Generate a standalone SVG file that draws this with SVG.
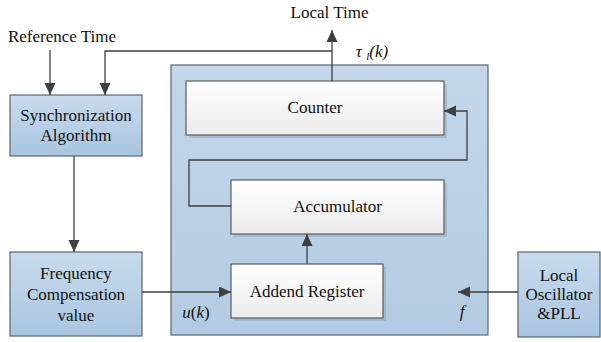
<svg xmlns="http://www.w3.org/2000/svg" width="601" height="342" viewBox="0 0 601 342" font-family="'Liberation Serif', 'DejaVu Serif', 'Times New Roman', serif">
<style>
  text { font-family: "Liberation Serif", "DejaVu Serif", "Times New Roman", serif; font-size: 17px; fill: #111; text-anchor: middle; }
  .it { font-style: italic; }
  .blue { fill: url(#gBlue); stroke: #5a6670; stroke-width: 1.2; }
  .cont { fill: url(#gCont); stroke: #5a6670; stroke-width: 1.2; }
  .white { fill: url(#gWhite); stroke: #5a5a5a; stroke-width: 1.2; }
  .shadow { fill: #8fa9c0; opacity: 0.55; }
  .conn { fill: none; stroke: #3f3f3f; stroke-width: 1.3; }
</style>
<defs>
  <linearGradient id="gBlue" x1="0" y1="0" x2="0" y2="1">
    <stop offset="0" stop-color="#c8dbed"/>
    <stop offset="1" stop-color="#a9c5df"/>
  </linearGradient>
  <linearGradient id="gCont" x1="0" y1="0" x2="0" y2="1">
    <stop offset="0" stop-color="#c4d7ea"/>
    <stop offset="1" stop-color="#b3cbe2"/>
  </linearGradient>
  <linearGradient id="gWhite" x1="0" y1="0" x2="0" y2="1">
    <stop offset="0" stop-color="#ffffff"/>
    <stop offset="1" stop-color="#ebebeb"/>
  </linearGradient>
  <marker id="arr" markerUnits="userSpaceOnUse" markerWidth="13" markerHeight="12" refX="12" refY="5.5" orient="auto">
    <path d="M0,0 L12,5.5 L0,11 z" fill="#3f3f3f"/>
  </marker>
</defs>

<g id="container">
  <rect class="cont" x="171" y="65" width="317" height="270"/>
</g>

<g id="sync">
  <rect class="blue" x="10" y="95" width="132" height="61"/>
  <text x="76" y="121">Synchronization</text>
  <text x="76" y="141">Algorithm</text>
</g>

<g id="freq">
  <rect class="blue" x="10" y="252" width="132" height="84"/>
  <text x="76" y="279">Frequency</text>
  <text x="76" y="300">Compensation</text>
  <text x="76" y="321">value</text>
</g>

<g id="osc">
  <rect class="blue" x="518" y="252" width="82" height="85"/>
  <text x="559" y="281">Local</text>
  <text x="559" y="300">Oscillator</text>
  <text x="559" y="319">&amp;PLL</text>
</g>

<g id="counter">
  <rect class="shadow" x="189" y="84" width="258" height="54"/>
  <rect class="white" x="186" y="81" width="258" height="54"/>
  <text x="315" y="113">Counter</text>
</g>

<g id="accumulator">
  <rect class="shadow" x="234" y="183" width="213" height="54"/>
  <rect class="white" x="231" y="180" width="213" height="54"/>
  <text x="337.5" y="212">Accumulator</text>
</g>

<g id="addend">
  <rect class="shadow" x="234" y="267" width="152" height="54"/>
  <rect class="white" x="231" y="264" width="152" height="54"/>
  <text x="307" y="297">Addend Register</text>
</g>

<g id="labels">
  <text x="62" y="42">Reference Time</text>
  <text x="329.5" y="18">Local Time</text>
  <text x="372" y="57" class="it">τ <tspan font-size="11" dy="3">l</tspan><tspan dy="-3">(k)</tspan></text>
  <text x="196" y="318"><tspan class="it">u</tspan>(<tspan class="it">k</tspan>)</text>
  <text x="462" y="317" class="it">f</text>
</g>

<g id="connectors">
  <path class="conn" d="M50,50 V95" marker-end="url(#arr)"/>
  <path class="conn" d="M332,81 V30" marker-end="url(#arr)"/>
  <path class="conn" d="M332,51 H105 V95" marker-end="url(#arr)"/>
  <path class="conn" d="M74,156 V252" marker-end="url(#arr)"/>
  <path class="conn" d="M142,292 H231" marker-end="url(#arr)"/>
  <path class="conn" d="M518,292 H458" marker-end="url(#arr)"/>
  <path class="conn" d="M307,264 V234" marker-end="url(#arr)"/>
  <path class="conn" d="M231,206 H189 V160 H467 V111 H444" marker-end="url(#arr)"/>
</g>
</svg>
